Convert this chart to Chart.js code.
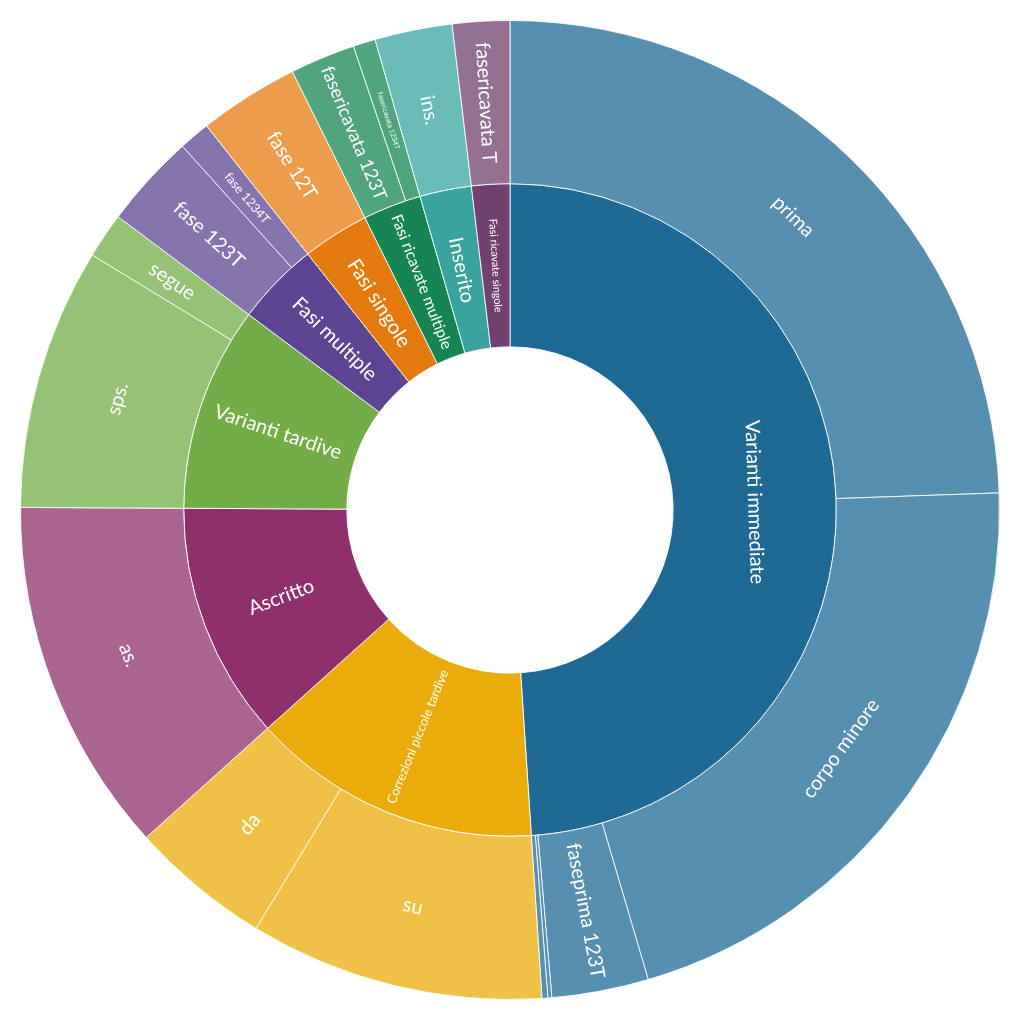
<!DOCTYPE html>
<html>
<head>
<meta charset="utf-8">
<script src="https://cdn.jsdelivr.net/npm/chart.js@4.4.1/dist/chart.umd.min.js"></script>
<style>
  html, body { margin: 0; padding: 0; background: #ffffff; }
  #wrap { width: 1020px; height: 1020px; }
</style>
</head>
<body>
<div id="wrap"><canvas id="sunburstChart" width="1020" height="1020"></canvas></div>
<script>
// inner ring (parents)
const groups = [
    'Varianti immediate',
    'Correzioni piccole tardive',
    'Ascritto',
    'Varianti tardive',
    'Fasi multiple',
    'Fasi singole',
    'Fasi ricavate multiple',
    'Inserito',
    'Fasi ricavate singole'
];
const groupColors = ['#1f6995', '#eaac0a', '#8e306b', '#72ad47', '#5e4594', '#e57b0f', '#168553', '#38a39f', '#70406f'];

// outer ring (children), clockwise from 12 o'clock
const leaves = [
    'prima', 'corpo minore', 'faseprima 123T', 'faseprima 12T', 'faseprima T',
    'su', 'da',
    'as.',
    'sps.', 'segue',
    'fase 123T', 'fase 1234T',
    'fase 12T',
    'fasericavata 123T', 'fasericavata 1234T',
    'ins.',
    'fasericavata T'
];
const leafGroup = [0, 0, 0, 0, 0, 1, 1, 2, 3, 3, 4, 4, 5, 6, 6, 7, 8];
const leafValues = [88.0, 75.6, 11.5, 0.46, 0.7, 35.0, 16.75, 42.3, 31.1, 5.4, 11.2, 3.7, 11.9, 7.75, 2.65, 9.2, 6.8];

// parent totals are the sum of their children
const groupValues = groups.map((g, i) =>
    leafValues.reduce((sum, v, j) => sum + (leafGroup[j] === i ? v : 0), 0));

// lighter shade of the parent colour for the children
function tint(hex, alpha) {
    const n = parseInt(hex.slice(1), 16);
    const c = [(n >> 16) & 255, (n >> 8) & 255, n & 255].map(v => Math.round(v * alpha + 255 * (1 - alpha)));
    return 'rgb(' + c.join(',') + ')';
}
const leafColors = leafGroup.map(g => tint(groupColors[g], 0.75));

const BASE_FONT = 20;
const FONT_FAMILY = 'Lato, "Open Sans", sans-serif';

// draws each label inside its slice, radial or tangential, shrunk to fit
const sliceLabels = {
    id: 'sliceLabels',
    afterDatasetsDraw(chart) {
        const ctx = chart.ctx;
        chart.data.datasets.forEach((ds, i) => {
            const meta = chart.getDatasetMeta(i);
            meta.data.forEach((arc, j) => {
                const text = ds.sliceNames[j];
                const p = arc.getProps(['x', 'y', 'startAngle', 'endAngle', 'innerRadius', 'outerRadius'], true);
                const span = p.endAngle - p.startAngle;
                const mid = (p.startAngle + p.endAngle) / 2;
                const thick = p.outerRadius - p.innerRadius;
                const rMid = (p.outerRadius + p.innerRadius) / 2;

                ctx.save();
                ctx.font = BASE_FONT + 'px ' + FONT_FAMILY;
                const L = ctx.measureText(text).width / BASE_FONT;
                let size, rot;
                if (span * p.innerRadius < thick) {
                    // radial
                    size = Math.min(BASE_FONT, 0.88 * thick / L, rMid * span / (1.3 + 0.16 * L));
                    rot = mid;
                } else {
                    // tangential
                    size = Math.min(BASE_FONT, 0.9 * p.innerRadius * span / L, thick * 0.5);
                    rot = mid + Math.PI / 2;
                }
                if (size < 4) { ctx.restore(); return; }
                while (rot > Math.PI / 2) rot -= Math.PI;
                while (rot <= -Math.PI / 2) rot += Math.PI;

                ctx.translate(p.x + rMid * Math.cos(mid), p.y + rMid * Math.sin(mid));
                ctx.rotate(rot);
                ctx.font = size.toFixed(1) + 'px ' + FONT_FAMILY;
                ctx.fillStyle = '#ffffff';
                ctx.textAlign = 'center';
                ctx.textBaseline = 'middle';
                ctx.fillText(text, 0, 0);
                ctx.restore();
            });
        });
    }
};

const ctx = document.getElementById('sunburstChart').getContext('2d');
new Chart(ctx, {
    type: 'doughnut',
    data: {
        labels: leaves,
        datasets: [
            {
                data: leafValues,
                sliceNames: leaves,
                backgroundColor: leafColors,
                borderColor: 'rgba(255,255,255,0.85)',
                borderWidth: 1
            },
            {
                data: groupValues,
                sliceNames: groups,
                backgroundColor: groupColors,
                borderColor: 'rgba(255,255,255,0.85)',
                borderWidth: 1
            }
        ]
    },
    options: {
        responsive: false,
        animation: false,
        cutout: '33.33%',
        hoverOffset: 0,
        layout: { padding: 20 },
        plugins: {
            legend: { display: false },
            tooltip: { enabled: false }
        }
    },
    plugins: [sliceLabels]
});
</script>
</body>
</html>
